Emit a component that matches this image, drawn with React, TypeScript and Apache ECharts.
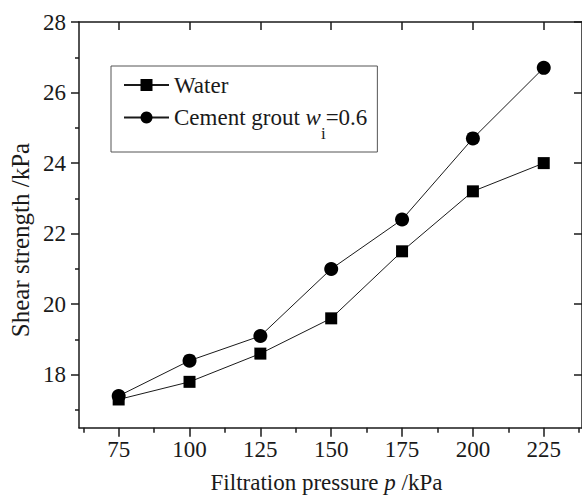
import React, { useEffect, useRef } from "react";
import * as echarts from "echarts";

const pressure = [75, 100, 125, 150, 175, 200, 225];
const water = [17.3, 17.8, 18.6, 19.6, 21.5, 23.2, 24.0];
const cement = [17.4, 18.4, 19.1, 21.0, 22.4, 24.7, 26.7];
const xMajor = [75, 100, 125, 150, 175, 200, 225];
const xMinor = [62.5, 87.5, 112.5, 137.5, 162.5, 187.5, 212.5, 237.5];
const yMajor = [18, 20, 22, 24, 26, 28];
const yMinor = [17, 19, 21, 23, 25, 27];
const seriesNames = ["Water", "Cement grout wi=0.6"];
const xTitle = "{a|Filtration pressure }{b|p}{a| /kPa}";
const yTitle = "Shear strength /kPa";

const FONT = "Liberation Serif";
const INK = "#1a1a1a";

export default function App() {
  const ref = useRef<HTMLDivElement>(null);
  useEffect(() => {
    if (!ref.current) return;
    const chart = echarts.init(ref.current, null, { renderer: "svg" });
    const axisLine = { show: true, lineStyle: { color: INK, width: 1.5 } };
    const xBase = { type: "value", min: 61, max: 238.5, gridIndex: 0, splitLine: { show: false } };
    const yBase = { type: "value", min: 16.5, max: 28, gridIndex: 0, splitLine: { show: false } };
    const lbl = { fontFamily: FONT, fontSize: 23, color: INK };
    chart.setOption({
      animation: false,
      backgroundColor: "#fff",
      textStyle: { fontFamily: FONT },
      grid: { left: 79, top: 22, width: 504.6, height: 405.7 },
      xAxis: [
        {
          ...xBase,
          position: "bottom",
          axisLine,
          axisTick: { show: true, customValues: xMajor, length: 9, inside: false, lineStyle: { color: INK, width: 1.5 } },
          axisLabel: { show: true, customValues: xMajor, margin: 10, ...lbl },
        },
        {
          ...xBase,
          position: "bottom",
          axisLine: { show: false },
          axisTick: { show: true, customValues: xMinor, length: 5, inside: false, lineStyle: { color: INK, width: 1.5 } },
          axisLabel: { show: false },
        },
        {
          ...xBase,
          position: "top",
          axisLine,
          axisTick: { show: true, customValues: xMajor, length: 8, inside: true, lineStyle: { color: INK, width: 1.5 } },
          axisLabel: { show: false },
        },
      ],
      yAxis: [
        {
          ...yBase,
          position: "left",
          axisLine,
          axisTick: { show: true, customValues: yMajor, length: 8, inside: false, lineStyle: { color: INK, width: 1.5 } },
          axisLabel: { show: true, customValues: yMajor, margin: 13, ...lbl },
        },
        {
          ...yBase,
          position: "left",
          axisLine: { show: false },
          axisTick: { show: true, customValues: yMinor, length: 4, inside: false, lineStyle: { color: INK, width: 1.5 } },
          axisLabel: { show: false },
        },
        {
          ...yBase,
          position: "right",
          axisLine,
          axisTick: { show: true, customValues: yMajor, length: 8, inside: true, lineStyle: { color: INK, width: 1.5 } },
          axisLabel: { show: false },
        },
      ],
      legend: {
        orient: "vertical",
        left: 111,
        top: 66,
        padding: [6, 10, 10, 12],
        itemGap: 3,
        itemWidth: 45,
        itemHeight: 15,
        borderColor: "#555",
        borderWidth: 1,
        selectedMode: false,
        data: seriesNames,
        formatter: (name: string) =>
          name === seriesNames[1] ? "{a|Cement grout }{w|w}{s|i}{a|=0.6}" : "{a|" + name + "}",
        textStyle: {
          ...lbl,
          lineHeight: 26,
          rich: {
            a: { ...lbl, lineHeight: 26 },
            w: { ...lbl, lineHeight: 26, fontStyle: "italic" },
            s: { fontFamily: FONT, fontSize: 17, color: INK, lineHeight: 2, padding: [24, 0, -8, 0] },
          },
        },
      },
      graphic: [
        {
          type: "text",
          x: 326.5,
          y: 482,
          style: {
            text: xTitle,
            align: "center",
            verticalAlign: "middle",
            fill: INK,
            fontFamily: FONT,
            fontSize: 23,
            rich: {
              a: { fontFamily: FONT, fontSize: 23, fill: INK },
              b: { fontFamily: FONT, fontSize: 23, fill: INK, fontStyle: "italic" },
            },
          },
        },
        {
          type: "text",
          x: 20,
          y: 240,
          rotation: Math.PI / 2,
          style: {
            text: yTitle,
            align: "center",
            verticalAlign: "middle",
            fill: INK,
            fontFamily: FONT,
            fontSize: 25,
          },
        },
      ],
      series: [
        {
          name: seriesNames[0],
          type: "line",
          xAxisIndex: 0,
          yAxisIndex: 0,
          data: pressure.map((p, i) => [p, water[i]]),
          symbol: "rect",
          symbolSize: 12,
          itemStyle: { color: "#000" },
          lineStyle: { color: INK, width: 1 },
          z: 3,
        },
        {
          name: seriesNames[1],
          type: "line",
          xAxisIndex: 0,
          yAxisIndex: 0,
          data: pressure.map((p, i) => [p, cement[i]]),
          symbol: "circle",
          symbolSize: 14,
          itemStyle: { color: "#000" },
          lineStyle: { color: INK, width: 1 },
          z: 3,
        },
      ],
    });
    return () => chart.dispose();
  }, []);
  return (
    <div style={{ position: "fixed", left: 0, top: 0, width: 582, height: 498, background: "#fff" }}>
      <div ref={ref} style={{ width: 582, height: 498 }} />
    </div>
  );
}
